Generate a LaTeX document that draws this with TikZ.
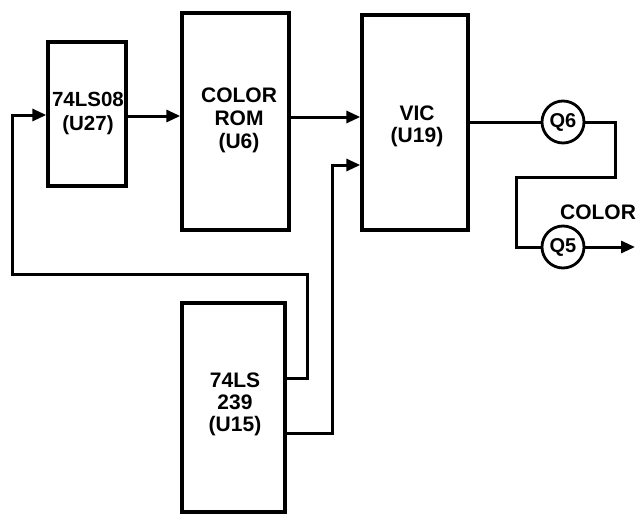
\documentclass[tikz,border=0pt]{standalone}
\usepackage{fontspec}
\setmainfont{Liberation Sans}
\usetikzlibrary{arrows.meta}
\begin{document}
\begin{tikzpicture}[x=1pt,y=-1pt,
  blk/.style={draw,line width=3.4pt,inner sep=0pt},
  lab/.style={align=center,font=\fontsize{21}{23}\selectfont\bfseries},
  qc/.style={draw,circle,line width=2.8pt,inner sep=0pt,minimum size=42pt,font=\fontsize{20}{22}\selectfont\bfseries},
  wire/.style={line width=3pt},
  arr/.style={wire,-{Triangle[length=14pt,width=12pt]}}]
\useasboundingbox (0,0) rectangle (637,514);
\node[blk,minimum width=78pt,minimum height=144pt] (U27) at (87,114) {};
\node[lab,font=\fontsize{20.5}{24}\selectfont\bfseries] (t27) at (88,113) {74LS08\\(U27)};
\node[blk,minimum width=107pt,minimum height=217pt] (U6) at (235.5,121.5) {};
\node[lab] (t6) at (239,120) {COLOR\\ROM\\(U6)};
\node[blk,minimum width=106pt,minimum height=215pt] (VIC) at (415,122.5) {};
\node[lab,font=\fontsize{21}{22}\selectfont\bfseries] (t19) at (417,126) {VIC\\(U19)};
\node[blk,minimum width=103pt,minimum height=209pt] (U15) at (233.5,407.5) {};
\node[lab,font=\fontsize{21}{22}\selectfont\bfseries] (t15) at (235,404) {74LS\\239\\(U15)};
\node[qc] (Q6) at (563,122) {Q6};
\node[qc] (Q5) at (563,247) {Q5};
\node[lab] (lbl) at (598,212) {COLOR};
\coordinate (out) at (635,247);
\draw[arr] (U27.east |- 0,116) -- (U6.west |- 0,116);
\draw[arr] (U6.east |- 0,117) -- (VIC.west |- 0,117);
\draw[arr] (U15.east |- 0,378) -- (307,378) -- (307,274) -- (12,274) -- (12,115) -- (U27.west |- 0,115);
\draw[arr] (U15.east |- 0,433) -- (332,433) -- (332,165) -- (VIC.west |- 0,165);
\draw[wire] (VIC.east |- Q6) -- (Q6.west);
\draw[wire] (Q6.east) -- (615,122) -- (615,177) -- (516,177) -- (516,247) -- (Q5.west);
\draw[arr] (Q5.east) -- (out);
\end{tikzpicture}
\end{document}
